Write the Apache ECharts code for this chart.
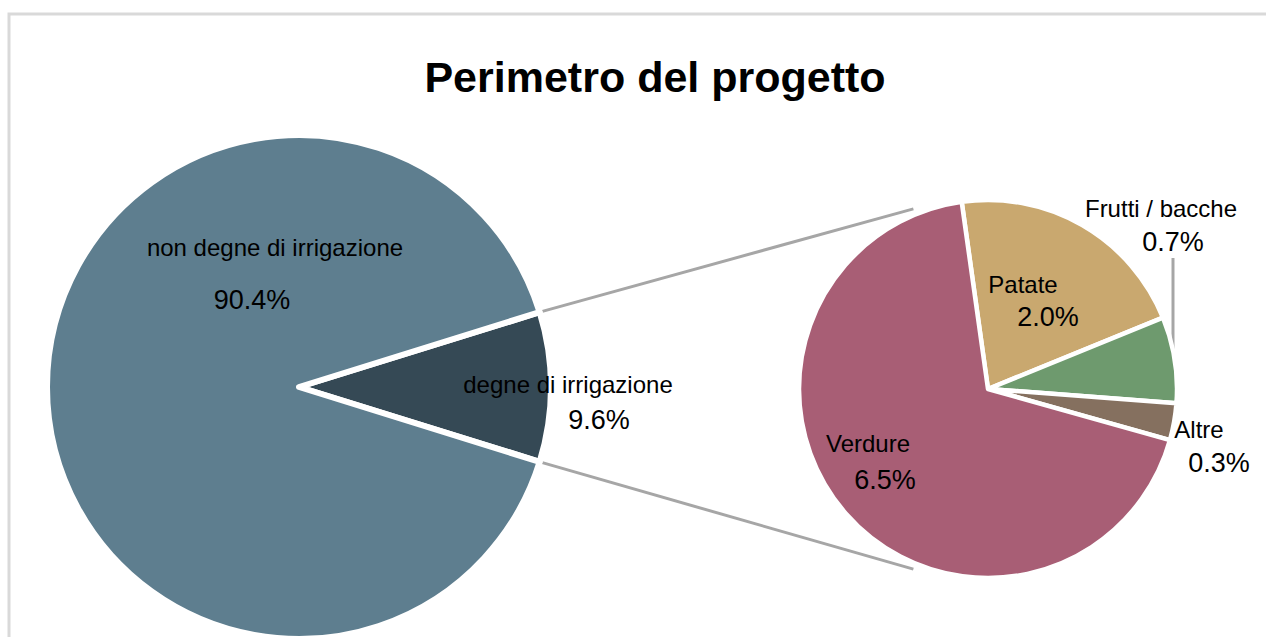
<!DOCTYPE html>
<html>
<head>
<meta charset="utf-8">
<title>Perimetro del progetto</title>
<script src="https://cdn.jsdelivr.net/npm/echarts@6/dist/echarts.min.js"></script>
<style>
  html, body { margin: 0; padding: 0; background: #fff; }
  #main { width: 1266px; height: 637px; }
</style>
</head>
<body>
<div id="main"></div>
<script>
// dati del grafico
const titleText = 'Perimetro del progetto';
const mainNames = ['degne di irrigazione', 'non degne di irrigazione'];
const mainValues = [9.6, 90.4];
const subNames = ['Patate', 'Frutti / bacche', 'Altre', 'Verdure'];
const subValues = [2.0, 0.7, 0.3, 6.5];

// layout e stile
const FONT = '"Liberation Sans", Arial, sans-serif';
const mainCenter = [299, 387], mainRadius = 252;
const subCenter = [988, 389], subRadius = 189;
const subStartAngle = 98;
const mainColors = ['#354955', '#5e7e8f'];
const subColors = ['#c9a86f', '#6e9a6e', '#85705f', '#a85e75'];
const lineColor = '#a6a6a6';
// etichette: [dx nome, dy nome] dal centro, spostamento x della %, distanza verticale nome -> %
const mainLabelPos = [[269, -3, 31, 36], [-24, -140, -23, 53]];
const subLabelPos = [[35, -105, 25, 33], [173, -181, 12, 34], [211, 40, 20, 34], [-120, 54, 17, 37]];

const chart = echarts.init(document.getElementById('main'), null, { renderer: 'svg' });

function polar(c, r, deg) {
  const a = deg * Math.PI / 180;
  return [c[0] + r * Math.cos(a), c[1] - r * Math.sin(a)];
}

function buildItems(names, values, colors, positions) {
  return names.map((name, i) => {
    const shift = positions[i][2], gap = positions[i][3];
    return {
      name: name,
      value: values[i],
      itemStyle: { color: colors[i] },
      label: {
        rich: {
          n: { fontFamily: FONT, fontSize: 24, lineHeight: 24, color: '#000', align: 'center' },
          p: {
            fontFamily: FONT, fontSize: 27, lineHeight: 2 * (gap - 12), color: '#000', align: 'center',
            padding: shift > 0 ? [0, 0, 0, 2 * shift] : [0, -2 * shift, 0, 0]
          }
        }
      }
    };
  });
}

function pieSeries(center, radius, startAngle, items, positions, border) {
  return {
    type: 'pie',
    center: center,
    radius: radius,
    startAngle: startAngle,
    clockwise: true,
    silent: true,
    animation: false,
    itemStyle: { borderColor: '#fff', borderWidth: border },
    label: {
      show: true,
      position: 'inside',
      formatter: p => '{n|' + p.name + '}\n{p|' + p.value.toFixed(1) + '%}'
    },
    labelLine: { show: false },
    labelLayout: params => {
      const pos = positions[params.dataIndex];
      return {
        x: center[0] + pos[0],
        y: center[1] + pos[1] - 12,
        align: 'center',
        verticalAlign: 'top'
      };
    },
    emphasis: { disabled: true },
    data: items
  };
}

const mainTotal = mainValues.reduce((a, b) => a + b, 0);
const halfAngle = mainValues[0] / mainTotal * 180;

// linee di collegamento tra le due torte
const linkTop = [polar(mainCenter, mainRadius + 1, halfAngle), polar(subCenter, subRadius + 6, 112.5)];
const linkBottom = [polar(mainCenter, mainRadius + 1, -halfAngle), polar(subCenter, subRadius + 6, -112.5)];

chart.setOption({
  backgroundColor: '#fff',
  animation: false,
  title: {
    text: titleText,
    left: 655,
    top: 55,
    textAlign: 'center',
    padding: 0,
    textStyle: { fontFamily: FONT, fontSize: 43, fontWeight: 'bold', color: '#000' }
  },
  graphic: {
    elements: [
      {
        type: 'rect', silent: true,
        shape: { x: 9, y: 14, width: 1400, height: 800 },
        style: { fill: 'none', stroke: '#d9d9d9', lineWidth: 3 }
      },
      {
        type: 'line', silent: true,
        shape: { x1: linkTop[0][0], y1: linkTop[0][1], x2: linkTop[1][0], y2: linkTop[1][1] },
        style: { stroke: lineColor, lineWidth: 3 }
      },
      {
        type: 'line', silent: true,
        shape: { x1: linkBottom[0][0], y1: linkBottom[0][1], x2: linkBottom[1][0], y2: linkBottom[1][1] },
        style: { stroke: lineColor, lineWidth: 3 }
      },
      {
        // linea guida per "Frutti / bacche"
        type: 'line', silent: true,
        shape: { x1: subCenter[0] + 185, y1: subCenter[1] - 131, x2: subCenter[0] + 185, y2: subCenter[1] - 29 },
        style: { stroke: lineColor, lineWidth: 3 }
      }
    ]
  },
  series: [
    pieSeries(mainCenter, mainRadius, halfAngle,
      buildItems(mainNames, mainValues, mainColors, mainLabelPos), mainLabelPos, 6),
    pieSeries(subCenter, subRadius, subStartAngle,
      buildItems(subNames, subValues, subColors, subLabelPos), subLabelPos, 4.5)
  ]
});
</script>
</body>
</html>
